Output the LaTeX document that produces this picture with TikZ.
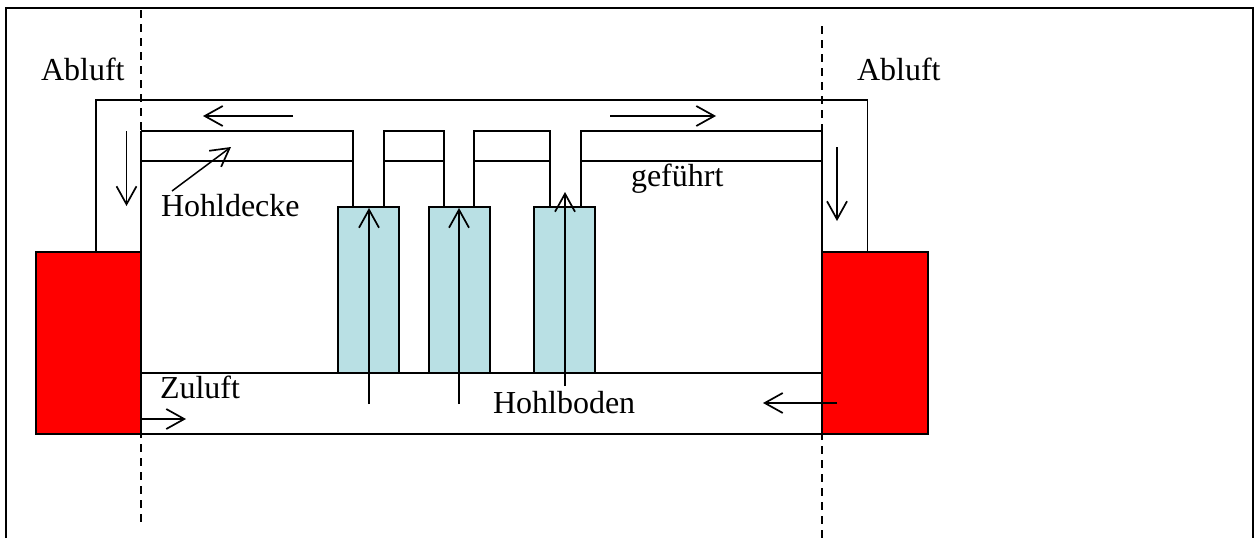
\documentclass[tikz,border=0pt]{standalone}
\usepackage{fontspec}
\setmainfont{Liberation Serif}
\usetikzlibrary{arrows.meta}
\tikzset{
  wall/.style={draw=black,line width=1.8pt,fill=red,inner sep=0pt,outer sep=0pt,anchor=north west,minimum width=#1,minimum height=182pt},
  cabinet/.style={draw=black,line width=1.8pt,fill=cabblue,inner sep=0pt,outer sep=0pt,anchor=north west,minimum width=61pt,minimum height=166.5pt},
  lbl/.style={inner sep=0pt,outer sep=0pt,anchor=base west,font=\fontsize{32}{36}\selectfont,text=black},
  duct/.style={draw=black,line width=1.7pt,line join=miter},
  heavy/.style={draw=black,line width=2.4pt},
  flow/.style={draw=black,line width=1.5pt,-{Straight Barb[length=18pt,width=20pt,line width=1.7pt]}},
  axis/.style={draw=black,line width=1.7pt,dash pattern=on 8pt off 6pt}
}
\definecolor{cabblue}{HTML}{B9E0E4}
\begin{document}
\begin{tikzpicture}[x=1pt,y=-1pt]
\useasboundingbox (0,0) rectangle (1255,538);
% frame, open at the bottom
\coordinate (fbl) at (6,538); \coordinate (ftl) at (6,8);
\coordinate (ftr) at (1253,8); \coordinate (fbr) at (1253,538);
\draw[heavy,line join=miter] (fbl) -- (ftl) -- (ftr) -- (fbr);
% blocks
\node[wall=105pt] (redL) at (36,252) {};
\node[wall=106pt] (redR) at (822,252) {};
\node[cabinet] (cabA) at (338,206.7) {};
\node[cabinet] (cabB) at (429,206.7) {};
\node[cabinet] (cabC) at (534,206.7) {};
% outer exhaust duct
\coordinate (oL) at (96,252); \coordinate (oLt) at (96,100);
\coordinate (oRt) at (867.5,100); \coordinate (oR) at (867.5,252);
\draw[duct] (oL) -- (oLt) -- (oRt) -- (oR);
% hollow ceiling with risers
\coordinate (wLt) at (141,131); \coordinate (wLb) at (141,161);
\coordinate (wRt) at (822,131); \coordinate (wRb) at (822,161);
\coordinate (a1t) at (353,131); \coordinate (a1b) at (353,161); \coordinate (a1c) at (353,206.7);
\coordinate (a2t) at (384,131); \coordinate (a2b) at (384,161); \coordinate (a2c) at (384,206.7);
\coordinate (b1t) at (444,131); \coordinate (b1b) at (444,161); \coordinate (b1c) at (444,206.7);
\coordinate (b2t) at (474,131); \coordinate (b2b) at (474,161); \coordinate (b2c) at (474,206.7);
\coordinate (c1t) at (550,131); \coordinate (c1b) at (550,161); \coordinate (c1c) at (550,206.7);
\coordinate (c2t) at (581,131); \coordinate (c2b) at (581,161); \coordinate (c2c) at (581,206.7);
\draw[duct] (wLt) -- (a1t) -- (a1c);
\draw[duct] (wLb) -- (a1b);
\draw[duct] (a2c) -- (a2t) -- (b1t) -- (b1c);
\draw[duct] (a2b) -- (b1b);
\draw[duct] (b2c) -- (b2t) -- (c1t) -- (c1c);
\draw[duct] (b2b) -- (c1b);
\draw[duct] (c2c) -- (c2t) -- (wRt);
\draw[duct] (c2b) -- (wRb);
% hollow floor
\coordinate (flTL) at (141,373); \coordinate (flTR) at (822,373);
\coordinate (flBL) at (141,434); \coordinate (flBR) at (822,434);
\draw[duct] (flTL) -- (flTR);
\draw[heavy] (flBL) -- (flBR);
% dashed axes
\coordinate (axLt) at (141,10); \coordinate (axLb) at (141,523);
\coordinate (axRt) at (822,26); \coordinate (axRb) at (822,538);
\draw[axis] (axLt) -- (axLb);
\draw[axis] (axRt) -- (axRb);
\coordinate (axLs) at (141,131); \coordinate (axLe) at (141,434);
\coordinate (axRs) at (822,131); \coordinate (axRe) at (822,434);
\draw[duct] (axLs) -- (axLe);
\draw[duct] (axRs) -- (axRe);
% flow arrows
\coordinate (f1s) at (293,116); \coordinate (f1e) at (203,116);
\coordinate (f2s) at (610,116); \coordinate (f2e) at (716,116);
\coordinate (f3s) at (126.5,131); \coordinate (f3e) at (126.5,206);
\coordinate (f4s) at (837,147); \coordinate (f4e) at (837,221);
\coordinate (f5s) at (172,191); \coordinate (f5e) at (231,147);
\coordinate (f6s) at (141,419); \coordinate (f6e) at (186,419);
\coordinate (f7s) at (837,403); \coordinate (f7e) at (763,403);
\coordinate (f8s) at (369,404); \coordinate (f8e) at (369,208);
\coordinate (f9s) at (459,404); \coordinate (f9e) at (459,208);
\coordinate (f10s) at (565,386); \coordinate (f10e) at (565,192);
\foreach \s/\e in {f1s/f1e,f2s/f2e,f3s/f3e,f4s/f4e,f5s/f5e,f6s/f6e,f7s/f7e,f8s/f8e,f9s/f9e,f10s/f10e}
  \draw[flow] (\s) -- (\e);
% labels
\node[lbl] (t1) at (41,80) {Abluft};
\node[lbl] (t2) at (857,80) {Abluft};
\node[lbl] (t3) at (161,216) {Hohldecke};
\node[lbl] (t4) at (631,186) {geführt};
\node[lbl] (t5) at (160,398) {Zuluft};
\node[lbl] (t6) at (493,413) {Hohlboden};
\end{tikzpicture}
\end{document}
